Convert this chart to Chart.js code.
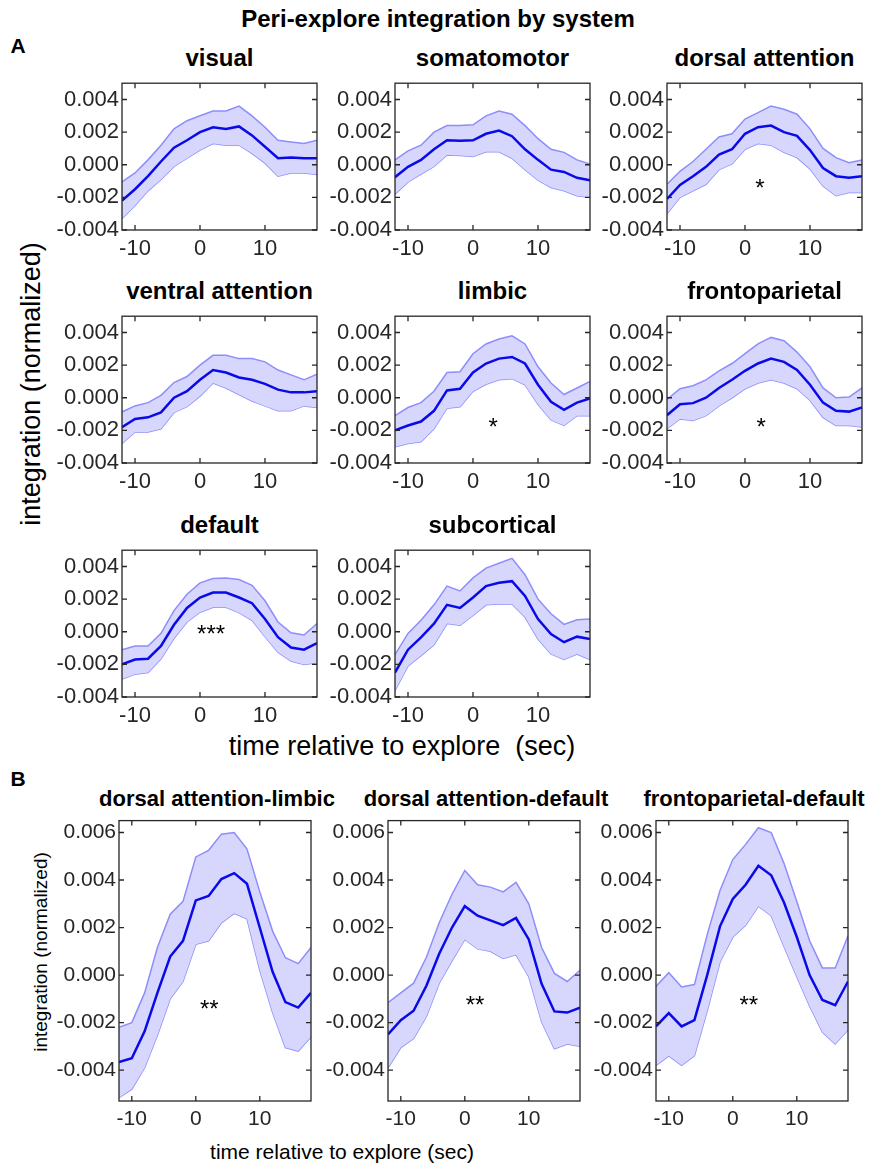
<!DOCTYPE html>
<html>
<head>
<meta charset="utf-8">
<script src="https://cdn.jsdelivr.net/npm/chart.js@4.4.1/dist/chart.umd.min.js"></script>
<style>
  body { margin: 0; background: #fff; width: 876px; height: 1166px; position: relative; overflow: hidden;
         font-family: 'Liberation Sans', Arial, sans-serif; color: #000; }
  .t { position: absolute; white-space: nowrap; transform: translate(-50%, -50%); }
  .rot { transform: translate(-50%, -50%) rotate(-90deg); }
  .panel { position: absolute; }
</style>
</head>
<body>
<div class="t" style="left:438px;top:19px;font-size:24px;font-weight:bold">Peri-explore integration by system</div>
<div class="t" style="left:18px;top:46px;font-size:21px;font-weight:bold">A</div>
<div class="t" style="left:18px;top:779px;font-size:21px;font-weight:bold">B</div>
<div class="t rot" style="left:31px;top:384px;font-size:27px">integration (normalized)</div>
<div class="t" style="left:402px;top:746px;font-size:27px">time relative to explore&nbsp; (sec)</div>
<div class="t rot" style="left:41px;top:952px;font-size:19px">integration (normalized)</div>
<div class="t" style="left:342px;top:1152px;font-size:21px">time relative to explore (sec)</div>
<div id="wrap"></div>

<script>
// time points (sec) and axis ticks
const times = [-12, -10, -8, -6, -4, -2, 0, 2, 4, 6, 8, 10, 12, 14, 16, 18];
const xTicks = [-10, 0, 10];
const yTicksA = [-0.004, -0.002, 0, 0.002, 0.004];
const yTicksB = [-0.004, -0.002, 0, 0.002, 0.004, 0.006];

// A: systems
const visualMean  = [-0.0022, -0.0015, -0.0007, 0.0002, 0.00105, 0.0015, 0.002, 0.0023, 0.0022, 0.00235, 0.0018, 0.0011, 0.0004, 0.00045, 0.0004, 0.0004];
const visualUpper = [-0.00105, -0.0005, 0.0003, 0.0012, 0.0022, 0.0027, 0.003, 0.0033, 0.0033, 0.0036, 0.003, 0.0023, 0.0015, 0.0014, 0.0013, 0.0015];
const visualLower = [-0.0033, -0.0025, -0.0016, -0.0009, -0.0001, 0.0004, 0.0009, 0.0013, 0.0012, 0.0012, 0.0007, 0.0001, -0.0007, -0.0005, -0.0005, -0.0006];

const somatoMean  = [-0.00076, -0.00013, 0.0003, 0.00095, 0.0015, 0.00147, 0.0015, 0.0019, 0.0021, 0.00175, 0.00095, 0.0003, -0.0003, -0.00044, -0.0008, -0.00095];
const somatoUpper = [0.0003, 0.00085, 0.0012, 0.002, 0.0024, 0.0024, 0.00245, 0.003, 0.0033, 0.0031, 0.0024, 0.0016, 0.00095, 0.00076, 0.0003, 0.00004];
const somatoLower = [-0.0018, -0.00105, -0.00057, -0.0001, 0.0006, 0.00057, 0.0005, 0.0008, 0.0008, 0.0004, -0.0003, -0.00095, -0.0014, -0.0016, -0.0019, -0.002];

const dorsalMean  = [-0.0021, -0.00124, -0.0007, -0.00013, 0.00063, 0.00095, 0.0019, 0.0023, 0.0024, 0.002, 0.00177, 0.0009, -0.0002, -0.0007, -0.0008, -0.0007];
const dorsalUpper = [-0.0012, -0.0004, 0.0002, 0.00095, 0.0017, 0.0019, 0.0028, 0.0032, 0.0036, 0.0034, 0.0031, 0.0022, 0.001, 0.00044, 0.00013, 0.0003];
const dorsalLower = [-0.003, -0.002, -0.0016, -0.0012, -0.0003, 0.00005, 0.00095, 0.0013, 0.0012, 0.00076, 0.00044, -0.00025, -0.0013, -0.0019, -0.0017, -0.0017];

const ventralMean  = [-0.0018, -0.0013, -0.0012, -0.0009, 0, 0.0004, 0.0011, 0.0017, 0.00155, 0.00124, 0.0011, 0.00085, 0.0005, 0.00033, 0.00033, 0.0004];
const ventralUpper = [-0.00087, -0.0005, -0.0003, 0.00015, 0.00093, 0.0013, 0.002, 0.0026, 0.0026, 0.0024, 0.0024, 0.0022, 0.0017, 0.0014, 0.0011, 0.00145];
const ventralLower = [-0.0028, -0.0021, -0.0021, -0.0019, -0.0009, -0.00055, 0.0001, 0.0009, 0.0006, 0.0002, -0.0002, -0.0005, -0.0008, -0.0008, -0.0005, -0.0006];

const limbicMean  = [-0.002, -0.0017, -0.00146, -0.0008, 0.00045, 0.00055, 0.00155, 0.0021, 0.0024, 0.0025, 0.0021, 0.0008, -0.00025, -0.00074, -0.0003, -0.00004];
const limbicUpper = [-0.0011, -0.0006, -0.0003, 0.0004, 0.00155, 0.0016, 0.0027, 0.0033, 0.0036, 0.0038, 0.0033, 0.0019, 0.0009, 0.0002, 0.0006, 0.001];
const limbicLower = [-0.003, -0.0028, -0.0027, -0.0019, -0.00064, -0.00055, 0.0004, 0.00083, 0.0011, 0.00117, 0.0008, -0.0004, -0.00136, -0.0017, -0.0011, -0.0011];

const frontoMean  = [-0.00107, -0.0004, -0.00033, 0, 0.0006, 0.0011, 0.00165, 0.0021, 0.0024, 0.0022, 0.0017, 0.0008, -0.0003, -0.0008, -0.00085, -0.0006];
const frontoUpper = [-0.0001, 0.00055, 0.00074, 0.0011, 0.00165, 0.0021, 0.0027, 0.0033, 0.0037, 0.0035, 0.0028, 0.0019, 0.0006, 0, 0.00004, 0.0006];
const frontoLower = [-0.0019, -0.0013, -0.0014, -0.0011, -0.0005, 0, 0.00055, 0.0009, 0.0011, 0.0009, 0.00055, -0.00015, -0.0012, -0.0017, -0.0017, -0.0018];

const defaultMean  = [-0.002, -0.0017, -0.00165, -0.00087, 0.00043, 0.00146, 0.0021, 0.0024, 0.0024, 0.0021, 0.00175, 0.00078, -0.00033, -0.00097, -0.0011, -0.0007];
const defaultUpper = [-0.0011, -0.00087, -0.00087, -0.0001, 0.0013, 0.0023, 0.003, 0.00326, 0.0033, 0.0032, 0.00285, 0.0019, 0.0006, -0.00006, -0.0002, 0.0005];
const defaultLower = [-0.0029, -0.0026, -0.0025, -0.00165, -0.0004, 0.0006, 0.0012, 0.0015, 0.0015, 0.00117, 0.0007, -0.0003, -0.00126, -0.0018, -0.002, -0.0019];

const subcortMean  = [-0.0025, -0.0011, -0.00035, 0.0005, 0.00165, 0.00146, 0.0021, 0.0028, 0.003, 0.0031, 0.0022, 0.00078, -0.00014, -0.00064, -0.0003, -0.00045];
const subcortUpper = [-0.0014, -0.0001, 0.0007, 0.00165, 0.0028, 0.0025, 0.0033, 0.0039, 0.0042, 0.0045, 0.0035, 0.002, 0.0011, 0.00045, 0.00074, 0.00078];
const subcortLower = [-0.0036, -0.0021, -0.00146, -0.0008, 0.0005, 0.0004, 0.001, 0.00165, 0.0017, 0.0017, 0.0009, -0.00045, -0.00136, -0.0017, -0.00136, -0.0017];

// B: system pairs
const daLimbicMean  = [-0.00366, -0.0035, -0.00237, -0.00075, 0.00078, 0.00144, 0.00314, 0.00333, 0.00404, 0.00429, 0.00384, 0.00199, 0.00014, -0.00114, -0.00137, -0.00075];
const daLimbicUpper = [-0.0022, -0.002, -0.00075, 0.00116, 0.00256, 0.0031, 0.00497, 0.00525, 0.00593, 0.006, 0.0053, 0.0035, 0.00185, 0.00073, 0.00048, 0.00116];
const daLimbicLower = [-0.00516, -0.0048, -0.0039, -0.00253, -0.001, -0.00027, 0.0013, 0.00144, 0.0022, 0.0026, 0.00237, 0.0002, -0.00158, -0.00305, -0.0032, -0.0026];

const daDefaultMean  = [-0.0025, -0.0019, -0.0015, -0.00045, 0.0009, 0.002, 0.0029, 0.0025, 0.0023, 0.0021, 0.0024, 0.0015, -0.00037, -0.00153, -0.00158, -0.00137];
const daDefaultUpper = [-0.00116, -0.00075, -0.00034, 0.00075, 0.0022, 0.0034, 0.0044, 0.0038, 0.0037, 0.0035, 0.0039, 0.003, 0.00116, 0.00007, -0.00027, 0.0002];
const daDefaultLower = [-0.0039, -0.00305, -0.00267, -0.00174, -0.00034, 0.0006, 0.0015, 0.0011, 0.001, 0.0007, 0.00085, -0.00007, -0.00196, -0.0031, -0.0029, -0.003];

const fpDefaultMean  = [-0.00216, -0.0016, -0.00216, -0.0019, 0, 0.00205, 0.0032, 0.0038, 0.0046, 0.0042, 0.00305, 0.0016, 0, -0.00105, -0.00127, -0.00027];
const fpDefaultUpper = [-0.00048, 0.0001, -0.0005, -0.0004, 0.0017, 0.00356, 0.00486, 0.0055, 0.0062, 0.006, 0.0047, 0.0031, 0.00144, 0.0003, 0.0003, 0.00164];
const fpDefaultLower = [-0.0038, -0.0034, -0.0038, -0.0034, -0.0015, 0.00055, 0.0016, 0.0021, 0.0029, 0.0025, 0.0012, -0.00007, -0.0013, -0.0024, -0.0029, -0.0023];

// significance marks: [text, x, y]
const starDorsal  = ['*', 2.3, -0.00106];
const starLimbic  = ['*', 3.1, -0.00145];
const starFronto  = ['*', 2.5, -0.0014];
const starDefault = ['***', 1.7, 0.00025];
const starDaLimbic  = ['**', 2.1, -0.00116];
const starDaDefault = ['**', 1.6, -0.001];
const starFpDefault = ['**', 2.5, -0.001];

// layout: plot area left/top/width/height
const panels = [
  { title: 'visual', mean: visualMean, upper: visualUpper, lower: visualLower, star: null, box: [122, 75, 195, 155], yt: yTicksA, yr: [-0.004, 0.005] },
  { title: 'somatomotor', mean: somatoMean, upper: somatoUpper, lower: somatoLower, star: null, box: [395, 75, 195, 155], yt: yTicksA, yr: [-0.004, 0.005] },
  { title: 'dorsal attention', mean: dorsalMean, upper: dorsalUpper, lower: dorsalLower, star: starDorsal, box: [667, 75, 195, 155], yt: yTicksA, yr: [-0.004, 0.005] },
  { title: 'ventral attention', mean: ventralMean, upper: ventralUpper, lower: ventralLower, star: null, box: [122, 308, 195, 155], yt: yTicksA, yr: [-0.004, 0.005] },
  { title: 'limbic', mean: limbicMean, upper: limbicUpper, lower: limbicLower, star: starLimbic, box: [395, 308, 195, 155], yt: yTicksA, yr: [-0.004, 0.005] },
  { title: 'frontoparietal', mean: frontoMean, upper: frontoUpper, lower: frontoLower, star: starFronto, box: [667, 308, 195, 155], yt: yTicksA, yr: [-0.004, 0.005] },
  { title: 'default', mean: defaultMean, upper: defaultUpper, lower: defaultLower, star: starDefault, box: [122, 542, 195, 155], yt: yTicksA, yr: [-0.004, 0.005] },
  { title: 'subcortical', mean: subcortMean, upper: subcortUpper, lower: subcortLower, star: null, box: [395, 542, 195, 155], yt: yTicksA, yr: [-0.004, 0.005] },
  { title: 'dorsal attention-limbic', mean: daLimbicMean, upper: daLimbicUpper, lower: daLimbicLower, star: starDaLimbic, box: [119, 813, 192, 288], yt: yTicksB, yr: [-0.0053, 0.0065], small: true },
  { title: 'dorsal attention-default', mean: daDefaultMean, upper: daDefaultUpper, lower: daDefaultLower, star: starDaDefault, box: [388, 813, 192, 288], yt: yTicksB, yr: [-0.0053, 0.0065], small: true },
  { title: 'frontoparietal-default', mean: fpDefaultMean, upper: fpDefaultUpper, lower: fpDefaultLower, star: starFpDefault, box: [656, 813, 192, 288], yt: yTicksB, yr: [-0.0053, 0.0065], small: true }
];

const FONT = "'Liberation Sans', Arial, sans-serif";
const PADL = 78, PADT = 8, PADR = 8, PADB = 32;

// box with inward ticks, plus significance stars
const boxPlugin = {
  id: 'box',
  afterDatasetsDraw(chart, args, opts) {
    const { ctx, chartArea: a, scales: { x, y } } = chart;
    ctx.save();
    ctx.strokeStyle = '#262626';
    ctx.lineWidth = 1.3;
    ctx.strokeRect(a.left, a.top, a.right - a.left, a.bottom - a.top);
    const len = 5;
    ctx.beginPath();
    x.ticks.forEach(t => {
      const px = x.getPixelForValue(t.value);
      ctx.moveTo(px, a.bottom); ctx.lineTo(px, a.bottom - len);
      ctx.moveTo(px, a.top); ctx.lineTo(px, a.top + len);
    });
    y.ticks.forEach(t => {
      const py = y.getPixelForValue(t.value);
      ctx.moveTo(a.left, py); ctx.lineTo(a.left + len, py);
      ctx.moveTo(a.right, py); ctx.lineTo(a.right - len, py);
    });
    ctx.stroke();
    const s = opts.star;
    if (s) {
      ctx.fillStyle = '#000';
      ctx.font = '24px ' + FONT;
      ctx.textAlign = 'center';
      ctx.textBaseline = 'alphabetic';
      ctx.fillText(s[0], x.getPixelForValue(s[1]), y.getPixelForValue(s[2]) + 24 * 0.58);
    }
    ctx.restore();
  }
};

const wrap = document.getElementById('wrap');
panels.forEach(p => {
  const [left, top, w, h] = p.box;
  const title = document.createElement('div');
  title.className = 't';
  title.textContent = p.title;
  title.style.left = (left + w / 2 + (p.small ? 2 : 0)) + 'px';
  title.style.top = (top - (p.small ? 14 : 17)) + 'px';
  title.style.fontSize = (p.small ? 22 : 24) + 'px';
  title.style.fontWeight = 'bold';
  wrap.appendChild(title);

  const div = document.createElement('div');
  div.className = 'panel';
  div.style.left = (left - PADL) + 'px';
  div.style.top = (top - PADT) + 'px';
  const canvas = document.createElement('canvas');
  canvas.width = PADL + w + PADR;
  canvas.height = PADT + h + PADB;
  div.appendChild(canvas);
  wrap.appendChild(div);

  const tickSize = p.small ? 21 : 22;
  const pts = arr => times.map((t, i) => ({ x: t, y: arr[i] }));
  new Chart(canvas, {
    type: 'line',
    data: {
      datasets: [
        { data: pts(p.mean), borderColor: '#0a0ae8', borderWidth: 2.5, fill: false },
        { data: pts(p.upper), borderColor: '#8d8dfb', borderWidth: 1.5, fill: '+1', backgroundColor: 'rgba(215,215,253,1)' },
        { data: pts(p.lower), borderColor: '#8d8dfb', borderWidth: 1.5, fill: false }
      ]
    },
    options: {
      responsive: false,
      animation: false,
      layout: { padding: { top: PADT, right: PADR, left: 0, bottom: 0 } },
      elements: { point: { radius: 0 }, line: { tension: 0 } },
      plugins: { legend: { display: false }, tooltip: { enabled: false }, box: { star: p.star } },
      scales: {
        x: {
          type: 'linear', min: -12, max: 18,
          grid: { display: false, drawTicks: false }, border: { display: false },
          afterBuildTicks: s => { s.ticks = xTicks.map(v => ({ value: v })); },
          afterFit: s => { s.height = PADB; },
          ticks: { padding: 6, color: '#262626', font: { family: FONT, size: tickSize }, maxRotation: 0, callback: v => String(v) }
        },
        y: {
          min: p.yr[0], max: p.yr[1],
          grid: { display: false, drawTicks: false }, border: { display: false },
          afterBuildTicks: s => { s.ticks = p.yt.map(v => ({ value: v })); },
          afterFit: s => { s.width = PADL; },
          ticks: { padding: 3, color: '#262626', font: { family: FONT, size: tickSize }, callback: v => v.toFixed(3) }
        }
      }
    },
    plugins: [boxPlugin]
  });
});
</script>
</body>
</html>
